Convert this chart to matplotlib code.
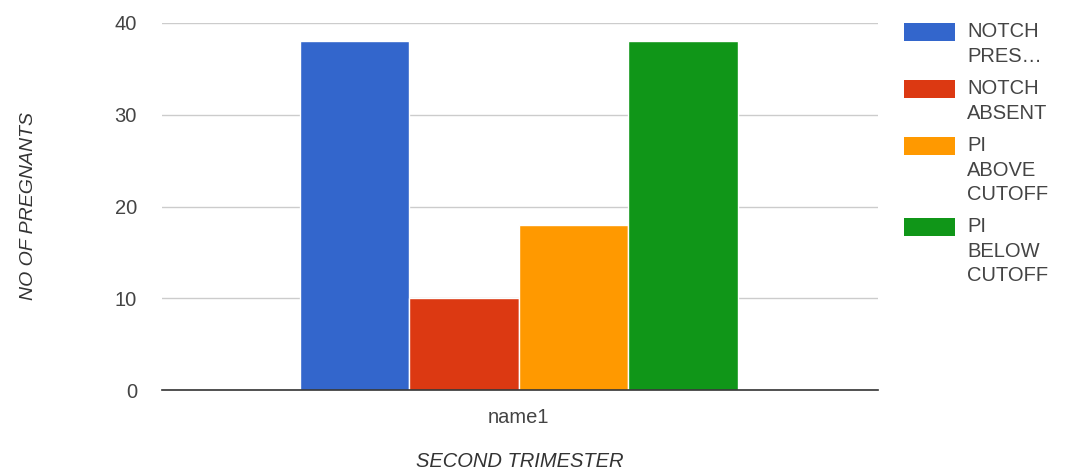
import matplotlib
matplotlib.use("Agg")
import matplotlib.pyplot as plt
from matplotlib.patches import Rectangle
import numpy as np

plt.rcParams['font.family'] = ['Liberation Sans', 'DejaVu Sans']

categories = ["name1"]
series_labels = ["NOTCH\nPRES…", "NOTCH\nABSENT", "PI\nABOVE\nCUTOFF", "PI\nBELOW\nCUTOFF"]
series_values = [[38], [10], [18], [38]]
series_colors = ["#3366cc", "#dc3912", "#ff9900", "#109618"]
yticks = [0, 10, 20, 30, 40]

W, H = 1082, 474
fig = plt.figure(figsize=(W / 100, H / 100), dpi=100)
ax = fig.add_axes([162 / W, 84 / H, 716 / W, 367 / H])

n = len(series_values)
x = np.arange(len(categories))
w = 1.0
for i, (vals, lab, col) in enumerate(zip(series_values, series_labels, series_colors)):
    ax.bar(x + (i - (n - 1) / 2) * w, vals, width=w, color=col, label=lab,
           edgecolor='white', linewidth=1.0, zorder=3)

ax.set_xlim(-3.26, 3.28)
ax.set_ylim(0, 40)
ax.set_yticks(yticks)
ax.set_xticks(x)
ax.set_xticklabels(categories)
ax.grid(axis='y', color='#cccccc', linewidth=1, zorder=0)
for s in ['top', 'right', 'left']:
    ax.spines[s].set_visible(False)
ax.spines['bottom'].set_color('#333333')
ax.spines['bottom'].set_linewidth(1.2)
ax.spines['bottom'].set_zorder(4)
ax.tick_params(axis='both', length=0, labelsize=14.5, labelcolor='#444444')
ax.tick_params(axis='y', pad=18)
ax.tick_params(axis='x', pad=13)

ax.set_ylabel("NO OF PREGNANTS", fontsize=14, style='italic', color='#333333', labelpad=56)
ax.set_xlabel("SECOND TRIMESTER", fontsize=14.5, style='italic', color='#333333', labelpad=18)

# legend (Google-chart style: swatch aligned with first text line)
y_px = 23
line_px = 24
gap_px = 9
for lab, col in zip(series_labels, series_colors):
    fig.add_artist(Rectangle((904 / W, 1 - (y_px + 18) / H), 51 / W, 18 / H,
                             transform=fig.transFigure, facecolor=col, edgecolor='none'))
    fig.text(967 / W, 1 - (y_px - 1) / H, lab, ha='left', va='top', fontsize=14.5,
             color='#444444', linespacing=1.37)
    y_px += lab.count("\n") * line_px + line_px + gap_px

fig.savefig("out.png", dpi=100)
